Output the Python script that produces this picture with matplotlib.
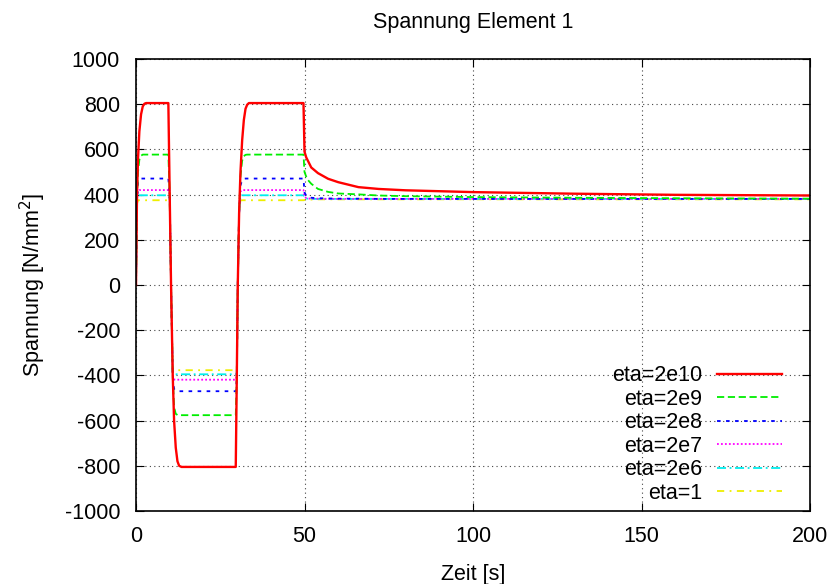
"""
Spannung Element 1 - Spannungsverlauf fuer verschiedene Viskositaeten
"""

import numpy as np
import matplotlib
matplotlib.use('Agg')
import matplotlib.pyplot as plt

plt.rcParams['font.family'] = ['Liberation Sans', 'DejaVu Sans']
plt.rcParams['axes.unicode_minus'] = False

# Zeitpunkte [s]
zeit = [0, 0.3, 0.6, 1.0, 1.5, 2.0, 2.5, 3.0,
        9.6, 10.0, 10.4, 10.9, 11.3, 11.8, 12.3, 12.8, 13.5,
        29.6, 29.9, 30.2, 30.6, 31.0, 31.5, 32.0, 32.5, 33.0, 33.5,
        49.7, 50.0, 50.5, 51, 52, 54, 57, 60, 66, 72, 80, 100, 130, 160, 200]

# Spannungen [N/mm^2]
eta_2e10 = [0, 400, 560, 680, 755, 790, 802, 805,
            805, 400, 0, -400, -600, -720, -780, -800, -805,
            -805, -420, 0, 320, 500, 640, 730, 780, 798, 805,
            805, 590, 565, 550, 520, 495, 470, 455, 433, 425, 419, 411, 404, 399, 396]
eta_2e9 = [0, 380, 500, 555, 572, 577, 577, 577,
           577, 400, 0, -400, -540, -570, -575, -576, -576,
           -576, -420, 0, 320, 480, 550, 570, 576, 577, 577,
           577, 500, 480, 465, 448, 425, 412, 405, 401, 396, 393, 389, 386, 384, 382]
eta_2e8 = [0, 380, 455, 468, 471, 471, 471, 471,
           471, 400, 0, -400, -460, -468, -470, -470, -470,
           -470, -420, 0, 320, 440, 465, 470, 471, 471, 471,
           471, 410, 395, 390, 386, 384, 383, 382, 382, 381, 381, 381, 381, 381, 381]
eta_2e7 = [0, 380, 415, 420, 420, 420, 420, 420,
           420, 400, 0, -400, -418, -419, -419, -419, -419,
           -419, -400, 0, 320, 415, 420, 420, 420, 420, 420,
           420, 390, 385, 383, 382, 382, 381, 381, 381, 381, 381, 381, 381, 381, 381]
eta_2e6 = [0, 380, 395, 397, 397, 397, 397, 397,
           397, 380, 0, -392, -395, -395, -395, -395, -395,
           -395, -390, 0, 320, 395, 397, 397, 397, 397, 397,
           397, 385, 383, 382, 381, 381, 381, 381, 381, 381, 381, 381, 381, 381, 381]
eta_1 = [0, 360, 375, 375, 375, 375, 375, 375,
         375, 360, 0, -375, -377, -377, -377, -377, -377,
         -377, -370, 0, 320, 375, 375, 375, 375, 375, 375,
         375, 376, 377, 378, 378, 379, 379, 379, 379, 379, 379, 379, 379, 379, 379]

labels = ['eta=2e10', 'eta=2e9', 'eta=2e8', 'eta=2e7', 'eta=2e6', 'eta=1']
xticks = [0, 50, 100, 150, 200]
yticks = [-1000, -800, -600, -400, -200, 0, 200, 400, 600, 800, 1000]

serien = [eta_2e10, eta_2e9, eta_2e8, eta_2e7, eta_2e6, eta_1]
farben = ['#ff0000', '#00ee00', '#0000ff', '#ff00ff', '#00eeee', '#eeee00']
stile = ['-', (0, (4, 2)), (0, (2, 3)), (0, (1, 1.2)), (0, (5, 2, 1, 2)), (0, (4, 3, 1, 3))]
breiten = [1.7, 1.3, 1.3, 1.3, 1.3, 1.3]

fs = 15.5

fig = plt.figure(figsize=(8.35, 5.84), dpi=100)
ax = fig.add_axes([136 / 835, 1 - 511 / 584, 674 / 835, 452 / 584])

# letzte Kurve zuerst zeichnen, damit rot oben liegt
for s, c, ls, lw, lab in reversed(list(zip(serien, farben, stile, breiten, labels))):
    ax.plot(zeit, s, color=c, linestyle=ls, linewidth=lw, label=lab)

ax.set_xlim(0, 200)
ax.set_ylim(-1000, 1000)
ax.set_xticks(xticks)
ax.set_yticks(yticks)
ax.tick_params(direction='in', length=6, width=0.8, labelsize=fs, top=True, right=True)
ax.tick_params(axis='x', pad=11)
ax.tick_params(axis='y', pad=11.5)
ax.grid(True, color='#444444', linestyle=(0, (1, 3)), linewidth=0.8)
for sp in ax.spines.values():
    sp.set_linewidth(1.2)

ax.set_title('Spannung Element 1', fontsize=fs, pad=22)
ax.set_xlabel('Zeit [s]', fontsize=fs, labelpad=12)
ax.set_ylabel('Spannung [N/mm$^2$]', fontsize=fs, labelpad=12)

handles, labs = ax.get_legend_handles_labels()
leg = ax.legend(handles[::-1], labs[::-1], loc='lower right', frameon=False,
                markerfirst=False, fontsize=fs, handlelength=3.0, handletextpad=0.7,
                labelspacing=0.12, borderpad=0, borderaxespad=0,
                bbox_to_anchor=(0.9585, 0.0155))
# Texte rechtsbuendig wie bei gnuplot
for col in leg._legend_handle_box.get_children():
    col.align = 'right'

plt.savefig('out.png', dpi=100)
